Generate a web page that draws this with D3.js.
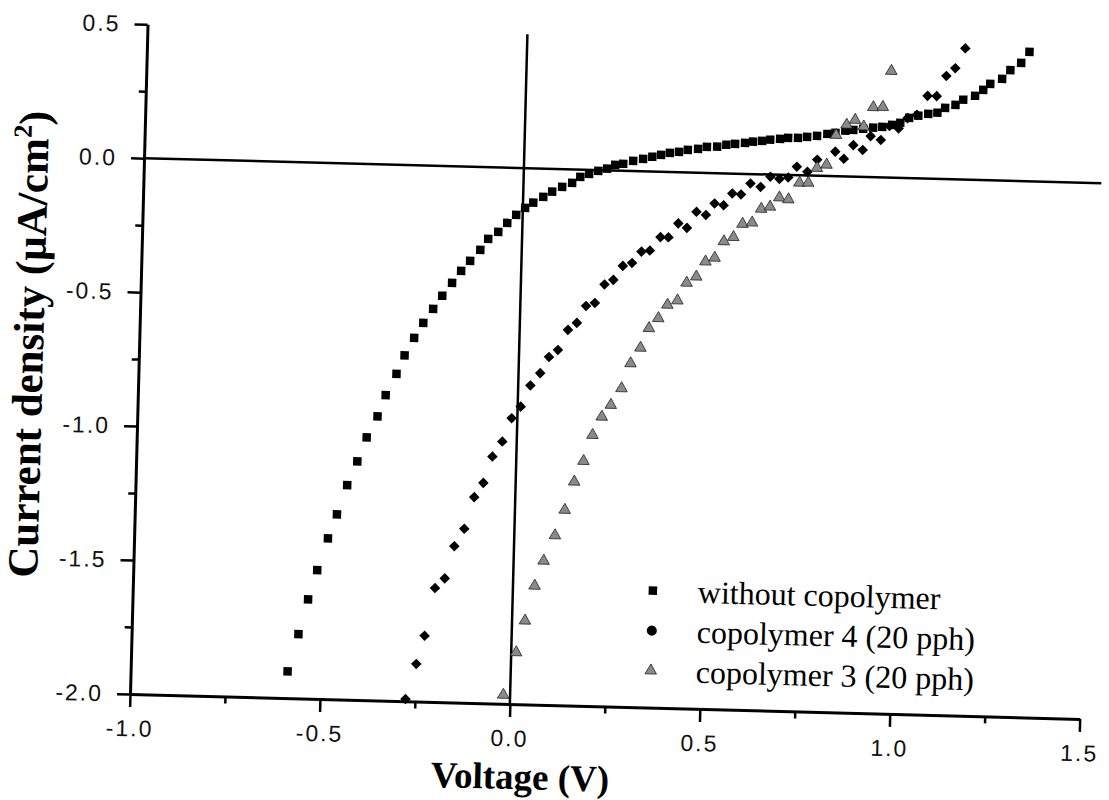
<!DOCTYPE html>
<html>
<head>
<meta charset="utf-8">
<script src="https://cdn.jsdelivr.net/npm/d3@7"></script>
<style>
  body { margin: 0; background: #fff; }
  svg { display: block; }
</style>
</head>
<body>
<svg id="jv"></svg>
<script>
// J-V curves
const noCopV = [-0.587,-0.561,-0.538,-0.516,-0.490,-0.468,-0.443,-0.418,-0.395,-0.368,-0.348,-0.321,-0.301,-0.277,-0.254,-0.229,-0.206,-0.181,-0.158,-0.135,-0.109,-0.089,-0.063,-0.040,-0.017,0.006,0.027,0.053,0.076,0.102,0.128,0.149,0.172,0.196,0.219,0.240,0.261,0.287,0.313,0.337,0.360,0.383,0.407,0.430,0.457,0.480,0.507,0.531,0.554,0.580,0.601,0.625,0.646,0.672,0.693,0.719,0.743,0.769,0.796,0.817,0.843,0.864,0.890,0.916,0.940,0.966,0.987,1.010,1.034,1.060,1.084,1.104,1.131,1.151,1.182,1.203,1.221,1.252,1.273,1.301,1.322];
const noCopJ = [-1.90,-1.76,-1.63,-1.52,-1.40,-1.31,-1.20,-1.11,-1.02,-0.94,-0.86,-0.78,-0.71,-0.644,-0.587,-0.534,-0.484,-0.435,-0.389,-0.351,-0.309,-0.267,-0.240,-0.206,-0.175,-0.148,-0.128,-0.105,-0.085,-0.066,-0.050,-0.027,-0.015,-0.003,0.006,0.021,0.026,0.038,0.046,0.055,0.063,0.071,0.076,0.084,0.089,0.097,0.099,0.107,0.111,0.116,0.121,0.125,0.130,0.134,0.139,0.140,0.144,0.149,0.157,0.162,0.171,0.175,0.180,0.185,0.189,0.197,0.206,0.225,0.234,0.242,0.247,0.266,0.278,0.298,0.314,0.337,0.360,0.380,0.413,0.441,0.483];

const cop4V = [-0.275,-0.249,-0.229,-0.205,-0.180,-0.157,-0.132,-0.108,-0.085,-0.063,-0.038,-0.015,0.008,0.032,0.057,0.079,0.102,0.127,0.150,0.173,0.196,0.220,0.243,0.267,0.291,0.315,0.337,0.364,0.385,0.410,0.433,0.457,0.482,0.504,0.528,0.550,0.573,0.597,0.624,0.649,0.673,0.696,0.718,0.746,0.771,0.818,0.841,0.865,0.890,0.910,0.937,0.959,0.983,1.006,1.030,1.057,1.081,1.105,1.128,1.153];
const cop4J = [-1.992,-1.860,-1.754,-1.575,-1.538,-1.417,-1.351,-1.232,-1.178,-1.079,-1.022,-0.934,-0.890,-0.810,-0.763,-0.702,-0.675,-0.599,-0.572,-0.508,-0.496,-0.426,-0.408,-0.355,-0.343,-0.300,-0.295,-0.244,-0.244,-0.191,-0.207,-0.146,-0.157,-0.113,-0.119,-0.074,-0.077,-0.035,-0.047,-0.008,-0.015,-0.009,0.032,0.014,0.060,0.092,0.066,0.118,0.101,0.153,0.140,0.193,0.185,0.224,0.237,0.309,0.309,0.385,0.415,0.490];

const cop3V = [-0.018,0.013,0.034,0.057,0.079,0.107,0.131,0.154,0.177,0.199,0.222,0.245,0.272,0.294,0.319,0.340,0.364,0.387,0.413,0.436,0.461,0.484,0.508,0.531,0.556,0.579,0.604,0.627,0.650,0.674,0.698,0.726,0.749,0.771,0.796,0.819,0.846,0.868,0.891,0.915,0.940,0.960];
const cop3J = [-1.967,-1.807,-1.688,-1.557,-1.463,-1.367,-1.271,-1.165,-1.087,-0.989,-0.920,-0.875,-0.812,-0.718,-0.659,-0.585,-0.547,-0.496,-0.479,-0.412,-0.388,-0.331,-0.316,-0.254,-0.237,-0.187,-0.181,-0.129,-0.120,-0.085,-0.091,-0.028,-0.027,0.029,0.042,0.154,0.193,0.212,0.188,0.261,0.263,0.398];

const xTicks = [-1.0, -0.5, 0.0, 0.5, 1.0, 1.5];
const xMinor = [-0.75, -0.25, 0.25, 0.75, 1.25];
const yTicks = [-2.0, -1.5, -1.0, -0.5, 0.0, 0.5];
const yMinor = [-1.75, -1.25, -0.75, -0.25, 0.25];
const legendLabels = ['without copolymer', 'copolymer 4 (20 pph)', 'copolymer 3 (20 pph)'];

const svg = d3.select('#jv').attr('width', 1109).attr('height', 800);

let xScale = d3.scaleLinear().domain([-1, 1.5]).range([130, 1080]);
let yScale = d3.scaleLinear().domain([-2, 0.5]).range([694, 24]);

// the scan is a bit crooked, so tilt the whole figure
let plot = svg.append('g').attr('transform', 'rotate(1.5, 130, 694)');

const sans = '"Liberation Sans", Arial, sans-serif';
const serif = '"Liberation Serif", "Times New Roman", serif';

function styleAxis(g) {
  g.select('.domain').attr('stroke', '#000').attr('stroke-width', 3);
  g.selectAll('.tick line').attr('stroke', '#000').attr('stroke-width', 2.5);
  g.selectAll('.tick text')
    .attr('font-family', sans)
    .attr('font-size', 23)
    .attr('letter-spacing', 2)
    .attr('fill', '#111');
}

let fmt = d => d.toFixed(1);

plot.append('g')
  .attr('transform', `translate(0,${yScale(-2)})`)
  .call(d3.axisBottom(xScale).tickValues(xMinor).tickSize(7).tickFormat(''))
  .call(g => g.select('.domain').remove())
  .call(styleAxis);

plot.append('g')
  .attr('transform', `translate(${xScale(-1)},0)`)
  .call(d3.axisLeft(yScale).tickValues(yMinor).tickSize(7).tickFormat(''))
  .call(g => g.select('.domain').remove())
  .call(styleAxis);

plot.append('g')
  .attr('transform', `translate(0,${yScale(-2)})`)
  .call(d3.axisBottom(xScale).tickValues(xTicks).tickSize(13).tickSizeOuter(0).tickPadding(13).tickFormat(fmt))
  .call(styleAxis);

plot.append('g')
  .attr('transform', `translate(${xScale(-1)},0)`)
  .call(d3.axisLeft(yScale).tickValues(yTicks).tickSize(13).tickSizeOuter(0).tickPadding(14).tickFormat(fmt))
  .call(styleAxis);

// zero lines
plot.append('line')
  .attr('x1', xScale(-1)).attr('x2', xScale(1.52))
  .attr('y1', yScale(0)).attr('y2', yScale(0))
  .attr('stroke', '#000').attr('stroke-width', 2.5);

plot.append('line')
  .attr('x1', xScale(0)).attr('x2', xScale(0))
  .attr('y1', yScale(-2)).attr('y2', yScale(0.5))
  .attr('stroke', '#000').attr('stroke-width', 2.5);

// markers
let square = d3.symbol().type(d3.symbolSquare).size(72);
let diamond = d3.symbol().type(d3.symbolSquare).size(56);
let triangle = d3.symbol().type(d3.symbolTriangle).size(58);
let circle = d3.symbol().type(d3.symbolCircle).size(80);

plot.append('g').selectAll('path')
  .data(d3.zip(noCopV, noCopJ))
  .join('path')
  .attr('d', square)
  .attr('transform', d => `translate(${xScale(d[0])},${yScale(d[1])})`)
  .attr('fill', '#000');

plot.append('g').selectAll('path')
  .data(d3.zip(cop4V, cop4J))
  .join('path')
  .attr('d', diamond)
  .attr('transform', d => `translate(${xScale(d[0])},${yScale(d[1])}) rotate(45)`)
  .attr('fill', '#000');

plot.append('g').selectAll('path')
  .data(d3.zip(cop3V, cop3J))
  .join('path')
  .attr('d', triangle)
  .attr('transform', d => `translate(${xScale(d[0])},${yScale(d[1])})`)
  .attr('fill', '#8a8a8a')
  .attr('stroke', '#222')
  .attr('stroke-width', 0.8);

// legend
let legend = plot.append('g').attr('transform', 'translate(650,577)');
let symbols = [square, circle, triangle];
let fills = ['#000', '#000', '#8a8a8a'];

legendLabels.forEach(function(label, i) {
  let row = legend.append('g').attr('transform', `translate(0,${i * 40})`);
  row.append('path')
    .attr('d', symbols[i])
    .attr('fill', fills[i])
    .attr('stroke', i === 2 ? '#222' : 'none')
    .attr('stroke-width', 0.8);
  row.append('text')
    .attr('x', 45)
    .attr('y', 11)
    .attr('font-family', serif)
    .attr('font-size', 32)
    .attr('fill', '#000')
    .text(label);
});

// axis titles
plot.append('text')
  .attr('x', 522)
  .attr('y', 779)
  .attr('text-anchor', 'middle')
  .attr('font-family', serif)
  .attr('font-weight', 'bold')
  .attr('font-size', 37)
  .text('Voltage (V)');

let yTitle = plot.append('text')
  .attr('transform', 'translate(34,347) rotate(-90)')
  .attr('text-anchor', 'middle')
  .attr('font-family', serif)
  .attr('font-weight', 'bold')
  .attr('font-size', 43);
yTitle.append('tspan').text('Current density (\u00B5A/cm');
yTitle.append('tspan').attr('font-size', 26).attr('dy', -17).text('2');
yTitle.append('tspan').attr('dy', 17).text(')');
</script>
</body>
</html>
